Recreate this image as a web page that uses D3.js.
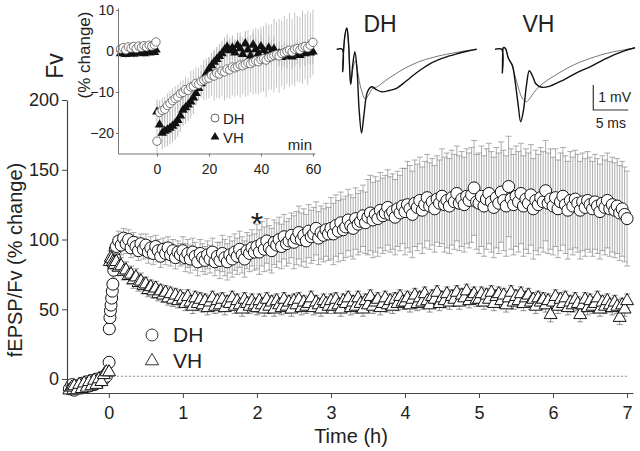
<!DOCTYPE html>
<html>
<head>
<meta charset="utf-8">
<script src="https://cdn.jsdelivr.net/npm/d3@7"></script>
<style>
  body { margin: 0; background: #fff; }
  svg { display: block; font-family: "Liberation Sans", Arial, Helvetica, sans-serif; }
</style>
</head>
<body>
<div id="chart"></div>
<script>
// ---- main panel: fEPSP/Fv (% change) vs time (h) ----
const hourTicks = [0, 1, 2, 3, 4, 5, 6, 7];
const pctTicks = [0, 50, 100, 150, 200];

// baseline sweeps, minutes before induction
const preMin = [-32, -30, -28, -26, -24, -22, -20, -18, -16, -14, -12, -10, -8, -6, -4, -2];
const dhPre = [-7, -4, -8, -5, -6, -3, -6, -2, -5, -1, -4, 0, -2, 1, 0, 2];
const vhPre = [-8, -6, -5, -8, -4, -7, -3, -6, -2, -5, -1, -4, 0, -2, 3, 5];
const preSem = [3, 3, 3, 3, 3, 3, 3, 3, 3, 3, 3, 3, 3, 3, 3, 3];

// first minutes after induction
const dhOnsetMin = [0.2, 0.4, 0.9, 1.3, 1.8, 2.3, 2.8, 3.3, 4.0, 4.6, 5.3];
const dhOnset = [12, 36, 44, 49, 53, 58, 63, 68, 78, 87, 93];
const dhOnsetSem = [3, 4, 4, 5, 5, 5, 6, 6, 6, 7, 7];
const vhOnsetMin = [0.2, 0.8, 1.6, 2.4, 3.2, 4.0, 4.8];
const vhOnset = [5, 84, 87, 86, 84, 83, 82];
const vhOnsetSem = [3, 5, 5, 5, 5, 5, 5];

// later sweeps: every 2 min from 6 min to 420 min
const postStart = 6, postStep = 2;
const dhPost = [
  95, 99, 96, 101, 97, 100, 94, 98, 95, 92, 97, 93, 96, 91, 94, 90, 95, 92, 88, 93, 90, 94, 89, 92, 87, 91, 89,
  92, 87, 90, 86, 91, 88, 84, 90, 87, 85, 89, 86, 91, 84, 88, 85, 90, 87, 84, 89, 86, 91, 88, 93, 89, 86, 92, 90, 94, 91,
  95, 91, 97, 93, 99, 94, 92, 98, 96, 100, 95, 102, 97, 99, 103, 98, 101, 105, 100, 103, 99, 106, 102, 104, 108, 101, 105, 103, 107, 104,
  108, 104, 110, 106, 112, 107, 109, 114, 110, 108, 115, 111, 113, 117, 112, 116, 119, 114, 118, 115, 121, 117, 119, 123, 118, 120, 116, 122, 119, 124,
  120, 125, 122, 118, 126, 123, 128, 121, 125, 130, 124, 127, 122, 129, 126, 131, 125, 128, 124, 130, 127, 133, 126, 129, 125, 131, 128, 132, 137, 127,
  126, 131, 124, 129, 133, 127, 123, 130, 126, 134, 128, 124, 138, 129, 125, 131, 127, 133, 124, 129, 126, 132, 122, 128, 125, 130, 127, 135, 126, 129,
  124, 130, 122, 127, 131, 125, 121, 128, 124, 129, 126, 121, 127, 123, 128, 125, 122, 127, 124, 120, 126, 123, 128, 122, 125, 121, 124, 119, 122, 118, 115
];
const vhPost = [
  84, 80, 81, 77, 78, 74, 75, 71, 73, 69, 70, 67, 68, 64, 66, 63, 65, 61, 63, 60, 62, 58, 61, 57, 60, 56, 59,
  57, 54, 59, 55, 52, 58, 54, 57, 53, 56, 51, 55, 58, 52, 56, 53, 57, 51, 55, 54, 58, 52, 56, 53, 50, 57, 54, 52, 56, 53,
  51, 56, 53, 50, 57, 52, 55, 50, 56, 53, 51, 57, 52, 55, 50, 56, 53, 57, 51, 55, 52, 54, 58, 51, 55, 53, 50, 56, 54, 52,
  56, 52, 57, 53, 50, 56, 54, 58, 51, 55, 52, 58, 54, 50, 56, 53, 59, 52, 55, 57, 51, 54, 58, 53, 56, 52, 57, 54, 59, 55,
  55, 58, 53, 57, 60, 54, 58, 55, 61, 56, 53, 59, 57, 62, 54, 58, 56, 61, 55, 59, 57, 62, 55, 60, 58, 63, 56, 59, 61, 57,
  57, 61, 55, 60, 57, 62, 54, 59, 61, 56, 60, 53, 58, 62, 55, 59, 56, 61, 54, 58, 60, 55, 57, 52, 58, 55, 57, 53, 56, 46,
  55, 59, 52, 57, 54, 58, 51, 55, 53, 57, 54, 46, 53, 57, 51, 56, 52, 54, 58, 50, 55, 52, 56, 53, 51, 55, 52, 44, 53, 50, 56
];
// SEM read per half hour after induction (0-0.5 h, 0.5-1 h, ...)
const dhSemHalfHour = [7, 8, 10, 13, 16, 19, 22, 27, 31, 34, 36, 36, 35, 34];
const vhSemHalfHour = [6, 5, 5, 5, 5, 5, 5, 5, 5, 5, 5, 5, 5, 5];

// ---- inset: fibre volley (% change) vs minutes ----
const fvTicks = [-20, -10, 0, 10];
const minTicks = [0, 20, 40, 60];
const fvPreMin = [-14, -13, -12, -11, -10, -9, -8, -7, -6, -5, -4, -3, -2, -1, -0.4];
const fvDhPre = [0.5, 0.8, 0.3, 1, 0.7, 1.1, 0.6, 1.2, 0.9, 1.3, 1, 1.4, 1.2, 1.5, 2.2];
const fvVhPre = [-0.6, -0.3, -0.8, -0.4, -0.2, -0.7, -0.3, -0.5, -0.1, -0.6, -0.2, -0.4, 0, -0.3, 0.3];
// one sweep per minute, 0..60 min
const fvDh = [
  -22, -15, -14.5, -14.2, -13.3, -12.8, -12.1, -11.6, -11.2, -10.4,
  -10.1, -9.4, -9.6, -8.8, -8.6, -7.9, -8.1, -7.4, -7.1, -6.8,
  -6.6, -5.9, -6.1, -5.4, -5.6, -4.9, -5.1, -4.4, -4.6, -3.9,
  -4.1, -3.8, -3.4, -3.6, -3.2, -2.9, -3.1, -2.7, -2.4, -2.6,
  -2.1, -1.9, -2.2, -1.6, -1.4, -1.1, -0.9, -1.2, -0.6, -0.4,
  -0.1, 0.2, -0.2, 0.4, 0.6, 0.3, 0.9, 1.1, 0.8, 1.4,
  2.1
];
const fvDhSem = [
  3, 3, 3, 3, 3, 3, 3, 3, 3, 3,
  3, 3, 3, 4, 4, 4, 4, 4, 5, 5,
  5, 5, 6, 6, 6, 6, 7, 7, 7, 7,
  7, 7, 8, 7, 8, 8, 7, 8, 8, 8,
  8, 8, 9, 8, 8, 9, 8, 9, 8, 9,
  8, 9, 8, 9, 8, 8, 9, 8, 9, 8,
  8
];
const fvVh = [
  -14.8, -18, -20, -19.5, -19.2, -18.8, -18.3, -17.7, -16.9, -15.8,
  -14.4, -13.8, -13.1, -12.4, -11.4, -10.3, -9.1, -7.9, -6.6, -5.5,
  -4.4, -3.5, -2.7, -2.0, -1.3, -0.6, 0.3, 1.0, 0.1, 0.8,
  -0.4, 1.4, 0.6, -0.8, 1.8, 0.3, -1.2, 1.5, 0.4, -0.6,
  1.1, 0.2, -0.9, 0.8, -0.3, 0.5, -1.1, -0.6, -1.5, -0.8,
  -1.2, -0.5, -1.4, -0.7, -0.2, -1, 0.1, -0.6, -0.1, -0.4,
  -0.2
];
const fvVhSem = [
  3, 4, 4, 4, 4, 4, 4, 4, 4, 4,
  4, 4, 4, 4, 4, 3, 3, 3, 3, 3,
  3, 3, 3, 3, 3, 3, 3, 3, 3, 3,
  3, 3, 3, 3, 3, 3, 3, 3, 3, 3,
  3, 3, 3, 3, 3, 3, 3, 3, 3, 3,
  3, 3, 3, 3, 3, 3, 3, 3, 3, 3,
  3
];

// ---- example sweeps: [ms, mV] ----
const dhThick = [[0,0],[0.8,0],[0.85,-0.9],[0.95,-0.2],[1.2,0.6],[1.45,0.85],[1.7,0.2],[2.0,-1.4],[2.3,-0.6],[2.6,-0.1],[2.9,-0.8],[3.2,-2.4],[3.55,-3.35],[3.9,-2.6],[4.4,-1.7],[5.0,-1.5],[5.6,-1.6],[6.4,-1.7],[7.5,-1.65],[8.6,-1.55],[9.8,-1.3],[10.9,-1.05],[12.1,-0.8],[13.3,-0.58],[14.5,-0.42],[15.7,-0.3],[17.2,-0.18],[18.6,-0.08],[20,0]];
const dhThin = [[0,0],[0.8,0],[0.85,-0.9],[0.95,-0.2],[1.2,0.6],[1.45,0.85],[1.7,0.2],[2.0,-1.4],[2.3,-0.8],[2.7,-0.45],[3.0,-0.9],[3.5,-1.6],[4.1,-2.0],[4.6,-1.8],[5.2,-1.55],[5.8,-1.5],[6.5,-1.35],[7.5,-1.15],[8.6,-0.95],[9.8,-0.75],[10.9,-0.6],[12.1,-0.46],[13.3,-0.36],[14.5,-0.27],[15.7,-0.2],[17.2,-0.12],[18.6,-0.05],[20,0]];
const vhThick = [[0,0],[0.95,0],[1.05,-0.95],[1.1,-0.2],[1.2,0.07],[1.5,0.03],[1.9,-0.35],[2.2,-0.5],[2.5,-0.66],[2.85,-1.23],[3.3,-2.2],[3.67,-2.9],[4.07,-2.43],[4.5,-1.43],[4.9,-0.86],[5.36,-1.07],[5.86,-1.39],[6.67,-1.52],[7.86,-1.47],[9.76,-1.23],[11.57,-0.95],[13.57,-0.7],[15.3,-0.45],[16.9,-0.23],[18.4,-0.07],[20,0.06]];
const vhThin = [[0,0],[0.95,0],[1.05,-0.95],[1.1,-0.2],[1.2,0.07],[1.5,0.03],[1.9,-0.35],[2.2,-0.5],[2.5,-0.7],[2.9,-1.1],[3.4,-1.6],[3.9,-1.95],[4.5,-2.1],[5.0,-1.95],[5.6,-1.72],[6.2,-1.52],[7.0,-1.33],[7.9,-1.16],[9.3,-0.92],[10.7,-0.7],[12.1,-0.52],[13.6,-0.36],[15.2,-0.22],[16.9,-0.1],[18.5,-0.02],[20,0.06]];

const width = 640, height = 451;
const svg = d3.select("#chart").append("svg")
  .attr("width", width)
  .attr("height", height);

function errBars(g, pts, xs, ys, cap, color, sw) {
  g.append("path")
    .attr("fill", "none")
    .attr("stroke", color)
    .attr("stroke-width", sw)
    .attr("d", pts.map(d => {
      const px = xs(d.t), lo = ys(d.v - d.e), hi = ys(d.v + d.e);
      let s = `M${px},${lo}V${hi}`;
      if (cap > 0) s += `M${px - cap},${hi}h${cap * 2}M${px - cap},${lo}h${cap * 2}`;
      return s;
    }).join(""));
}

// ---------- main panel ----------
const x = d3.scaleLinear().domain([-0.565, 7.08]).range([67, 633]);
const y = d3.scaleLinear().domain([-10, 200]).range([393, 100]);

const semAt = (bins, m) => bins[Math.min(bins.length - 1, Math.floor(m / 30))];
const dhAll = [
  ...preMin.map((m, i) => ({ t: m / 60, v: dhPre[i], e: preSem[i] })),
  ...dhOnsetMin.map((m, i) => ({ t: m / 60, v: dhOnset[i], e: dhOnsetSem[i] })),
  ...dhPost.map((v, i) => {
    const m = postStart + postStep * i;
    return { t: m / 60, v, e: semAt(dhSemHalfHour, m) };
  })
];
const vhAll = [
  ...preMin.map((m, i) => ({ t: m / 60, v: vhPre[i], e: preSem[i] })),
  ...vhOnsetMin.map((m, i) => ({ t: m / 60, v: vhOnset[i], e: vhOnsetSem[i] })),
  ...vhPost.map((v, i) => {
    const m = postStart + postStep * i;
    return { t: m / 60, v, e: semAt(vhSemHalfHour, m) };
  })
];

svg.append("line")
  .attr("x1", x(0)).attr("x2", x(7))
  .attr("y1", y(2)).attr("y2", y(2))
  .attr("stroke", "#888")
  .attr("stroke-width", 1)
  .attr("stroke-dasharray", "2,2");

const main = svg.append("g");
errBars(main, dhAll, x, y, 3, "#8a8a8a", 0.7);
main.selectAll("circle.dh")
  .data(dhAll)
  .enter()
  .append("circle")
  .attr("class", "dh")
  .attr("cx", d => x(d.t))
  .attr("cy", d => y(d.v))
  .attr("r", 6)
  .attr("fill", "#fff")
  .attr("stroke", "#111")
  .attr("stroke-width", 1);

errBars(main, vhAll, x, y, 3, "#666", 0.7);
const tri = d3.symbol().type(d3.symbolTriangle).size(72);
main.selectAll("path.vh")
  .data(vhAll)
  .enter()
  .append("path")
  .attr("class", "vh")
  .attr("d", tri)
  .attr("transform", d => `translate(${x(d.t)},${y(d.v)})`)
  .attr("fill", "#fff")
  .attr("stroke", "#111")
  .attr("stroke-width", 1);

const xAxis = svg.append("g")
  .attr("transform", `translate(0,${y(-10)})`)
  .attr("color", "#444")
  .call(d3.axisBottom(x).tickValues(hourTicks).tickFormat(d3.format("d")).tickSize(5).tickSizeOuter(0).tickPadding(8));
const yAxis = svg.append("g")
  .attr("transform", `translate(${x(-0.565)},0)`)
  .attr("color", "#444")
  .call(d3.axisLeft(y).tickValues(pctTicks).tickSize(5).tickSizeOuter(0).tickPadding(3));
[xAxis, yAxis].forEach(a => {
  a.select(".domain").attr("stroke-width", 1.2);
  a.selectAll("text").attr("font-size", 18).attr("fill", "#222").attr("font-family", null);
});

svg.append("text")
  .attr("x", 351).attr("y", 443)
  .attr("text-anchor", "middle")
  .attr("font-size", 20)
  .attr("fill", "#222")
  .text("Time (h)");

svg.append("text")
  .attr("transform", "translate(22,260) rotate(-90)")
  .attr("text-anchor", "middle")
  .attr("font-size", 20)
  .attr("fill", "#222")
  .text("fEPSP/Fv (% change)");

svg.append("text")
  .attr("x", x(2)).attr("y", 235)
  .attr("text-anchor", "middle")
  .attr("font-size", 32)
  .attr("fill", "#222")
  .text("*");

// legend
svg.append("circle")
  .attr("cx", 152).attr("cy", 335).attr("r", 6)
  .attr("fill", "#fff").attr("stroke", "#333").attr("stroke-width", 1);
svg.append("path")
  .attr("d", d3.symbol().type(d3.symbolTriangle).size(75)())
  .attr("transform", "translate(152,361)")
  .attr("fill", "#fff").attr("stroke", "#333").attr("stroke-width", 1);
svg.append("text").attr("x", 173).attr("y", 342).attr("font-size", 21).attr("fill", "#222").text("DH");
svg.append("text").attr("x", 173).attr("y", 368).attr("font-size", 21).attr("fill", "#222").text("VH");

// ---------- inset ----------
const xi = d3.scaleLinear().domain([-15, 60.8]).range([118, 315]);
const yi = d3.scaleLinear().domain([-25, 10.5]).range([153.5, 7.95]);

const fvDhAll = [
  ...fvPreMin.map((m, i) => ({ t: m, v: fvDhPre[i], e: 1 })),
  ...fvDh.map((v, i) => ({ t: i, v, e: fvDhSem[i] }))
];
const fvVhAll = [
  ...fvPreMin.map((m, i) => ({ t: m, v: fvVhPre[i], e: 1 })),
  ...fvVh.map((v, i) => ({ t: i, v, e: fvVhSem[i] }))
];

const inset = svg.append("g");
errBars(inset, fvDhAll, xi, yi, 0, "#c4c4c4", 1);
errBars(inset, fvVhAll, xi, yi, 0, "#b8b8b8", 1);
inset.selectAll("path.fvh")
  .data(fvVhAll)
  .enter()
  .append("path")
  .attr("class", "fvh")
  .attr("d", d3.symbol().type(d3.symbolTriangle).size(40))
  .attr("transform", d => `translate(${xi(d.t)},${yi(d.v)})`)
  .attr("fill", "#111");
inset.selectAll("circle.fdh")
  .data(fvDhAll)
  .enter()
  .append("circle")
  .attr("class", "fdh")
  .attr("cx", d => xi(d.t))
  .attr("cy", d => yi(d.v))
  .attr("r", 4.2)
  .attr("fill", "#fff")
  .attr("stroke", "#555")
  .attr("stroke-width", 0.8);

const xiAxis = svg.append("g")
  .attr("transform", `translate(0,${yi(-25)})`)
  .attr("color", "#777")
  .call(d3.axisBottom(xi).tickValues(minTicks).tickSize(3).tickSizeOuter(0).tickPadding(8));
const yiAxis = svg.append("g")
  .attr("transform", `translate(${xi(-15)},0)`)
  .attr("color", "#777")
  .call(d3.axisLeft(yi).tickValues(fvTicks).tickSize(2).tickSizeOuter(0).tickPadding(2));
[xiAxis, yiAxis].forEach(a => {
  a.selectAll("text").attr("font-size", 14).attr("fill", "#222").attr("font-family", null);
});

svg.append("text")
  .attr("transform", "translate(90,55) rotate(-90)")
  .attr("text-anchor", "middle")
  .attr("font-size", 17)
  .attr("fill", "#222")
  .text("(% change)");
svg.append("text")
  .attr("transform", "translate(63,66) rotate(-90)")
  .attr("text-anchor", "middle")
  .attr("font-size", 23)
  .attr("fill", "#222")
  .text("Fv");
svg.append("text")
  .attr("x", 312).attr("y", 150)
  .attr("text-anchor", "end")
  .attr("font-size", 15)
  .attr("fill", "#222")
  .text("min");

svg.append("circle")
  .attr("cx", 215).attr("cy", 118).attr("r", 4)
  .attr("fill", "#fff").attr("stroke", "#555").attr("stroke-width", 0.9);
svg.append("path")
  .attr("d", d3.symbol().type(d3.symbolTriangle).size(34)())
  .attr("transform", "translate(215,137)")
  .attr("fill", "#111");
svg.append("text").attr("x", 223).attr("y", 124).attr("font-size", 15).attr("fill", "#222").text("DH");
svg.append("text").attr("x", 223).attr("y", 143).attr("font-size", 15).attr("fill", "#222").text("VH");

// ---------- example sweeps ----------
const mv = d3.scaleLinear().domain([0, 1]).range([49.3, 24.3]);
function sweeps(x0, thick, thin, label) {
  const ms = d3.scaleLinear().domain([0, 20]).range([x0, x0 + 140]);
  const line = d3.line().x(d => ms(d[0])).y(d => mv(d[1])).curve(d3.curveCatmullRom.alpha(0.5));
  svg.append("path").attr("d", line(thin))
    .attr("fill", "none").attr("stroke", "#777").attr("stroke-width", 1);
  svg.append("path").attr("d", line(thick))
    .attr("fill", "none").attr("stroke", "#111").attr("stroke-width", 1.4);
  svg.append("text")
    .attr("x", ms(6.2)).attr("y", 32)
    .attr("text-anchor", "middle")
    .attr("font-size", 23)
    .attr("fill", "#222")
    .text(label);
  return ms;
}
sweeps(336.7, dhThick, dhThin, "DH");
const msVh = sweeps(495, vhThick, vhThin, "VH");

// scale bar: 1 mV, 5 ms
const sbX = 593.3, sbY = 110;
const msLen = msVh(5) - msVh(0), mvLen = mv(0) - mv(1);
svg.append("path")
  .attr("d", `M${sbX},${sbY - mvLen}V${sbY}h${msLen}`)
  .attr("fill", "none")
  .attr("stroke", "#333")
  .attr("stroke-width", 1.2);
svg.append("text").attr("x", sbX + 5).attr("y", 102).attr("font-size", 14).attr("fill", "#222").text("1 mV");
svg.append("text").attr("x", sbX + msLen / 2).attr("y", 128).attr("text-anchor", "middle").attr("font-size", 14).attr("fill", "#222").text("5 ms");
</script>
</body>
</html>
